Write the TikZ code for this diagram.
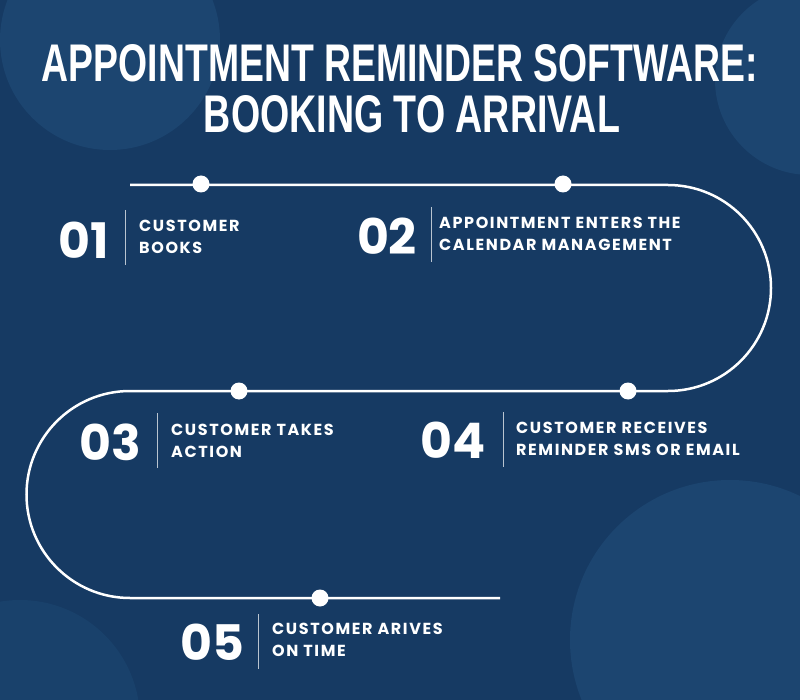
\documentclass[tikz,border=0pt]{standalone}
\usepackage{fontspec}
\usepackage{graphicx}
\setmainfont{Poppins}
\newfontfamily\lblfont[LetterSpace=10]{Poppins}
\newfontfamily\ttlfont{Liberation Sans}
\definecolor{bg}{HTML}{163A63}
\definecolor{circ}{HTML}{1C4570}
\begin{document}
\begin{tikzpicture}[x=1pt,y=-1pt,
  dot/.style={circle,fill=white,inner sep=0pt,minimum size=17pt},
  num/.style={text=white,font=\bfseries\fontsize{49}{49}\selectfont,anchor=center},
  lbl/.style={text=white,font=\lblfont\bfseries\fontsize{16}{22}\selectfont,anchor=west,align=left,inner sep=0pt},
  sep/.style={draw=white!70!bg,line width=0.8pt}]
\fill[bg] (0,0) rectangle (800,700);
\begin{scope}
\clip (0,0) rectangle (800,700);
\fill[circ] (110,40) circle (110);
\fill[circ] (810,80) circle (95);
\fill[circ] (730,640) circle (160);
\fill[circ!60!bg] (20,720) circle (120);
\end{scope}
\node[text=white,inner sep=0pt] (t1) at (400,63) {\resizebox{716pt}{37pt}{\ttlfont\bfseries APPOINTMENT REMINDER SOFTWARE:}};
\node[text=white,inner sep=0pt] (t2) at (412,114) {\resizebox{416pt}{37pt}{\ttlfont\bfseries BOOKING TO ARRIVAL}};
\draw[white,line width=2.5pt] (130,185) -- (668,185) arc[start angle=-90,end angle=90,radius=103] -- (130,391) arc[start angle=270,end angle=90,radius=103.5] -- (500,598);
\node[dot] (d1) at (201,184) {};
\node[dot] (d2) at (563,184) {};
\node[dot] (d3) at (239,391) {};
\node[dot] (d4) at (628,391) {};
\node[dot] (d5) at (320,598) {};
\node[num] (n1) at (84,240) {01};
\draw[sep] (125,210) -- (125,265);
\node[lbl] (l1) at (139,237) {CUSTOMER\\BOOKS};
\node[num] (n2) at (387,236) {02};
\draw[sep] (431,207) -- (431,262);
\node[lbl] (l2) at (439,234) {APPOINTMENT ENTERS THE\\CALENDAR MANAGEMENT};
\node[num] (n3) at (110,442) {03};
\draw[sep] (157,413) -- (157,468);
\node[lbl] (l3) at (171,441) {CUSTOMER TAKES\\ACTION};
\node[num] (n4) at (453,440) {04};
\draw[sep] (503,412) -- (503,467);
\node[lbl] (l4) at (516,439) {CUSTOMER RECEIVES\\REMINDER SMS OR EMAIL};
\node[num] (n5) at (212,642) {05};
\draw[sep] (258,614) -- (258,669);
\node[lbl] (l5) at (272,640) {CUSTOMER ARIVES\\ON TIME};
\end{tikzpicture}
\end{document}
